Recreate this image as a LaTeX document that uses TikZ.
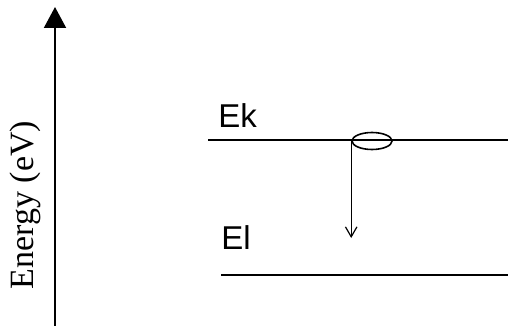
\documentclass[tikz,border=0pt]{standalone}
\usepackage{fontspec}
\setmainfont{Liberation Serif}
\newfontfamily\levelfont{Liberation Sans}
\usetikzlibrary{arrows.meta,shapes.geometric}

\begin{document}
\begin{tikzpicture}[x=1pt,y=-1pt,thick,
    axis/.style={line width=2pt,-{Triangle[width=22pt,length=21pt]}},
    level/.style={line width=1.4pt},
    level label/.style={font=\levelfont\fontsize{33}{36}\selectfont,anchor=south west,inner sep=0pt},
    carrier/.style={ellipse,draw,line width=1.6pt,minimum width=40pt,minimum height=17pt,inner sep=0pt},
    jump/.style={line width=1.2pt,-{Straight Barb[length=10pt,width=11pt,angle'=60]}}]
\useasboundingbox (0,0) rectangle (508,326);

% energy axis
\coordinate (axis bottom) at (55,326);
\coordinate (axis top) at (55,7);
\draw[axis] (axis bottom) -- (axis top);
\node[rotate=90,font=\fontsize{34}{40}\selectfont] (axis label) at (25,205) {Energy (eV)};

% upper level k
\coordinate (k left) at (208,140);
\coordinate (k right) at (508,140);
\draw[level] (k left) -- (k right);
\node[level label] (Ek) at (218,128) {Ek};

% lower level l
\coordinate (l left) at (221,275);
\coordinate (l right) at (508,275);
\draw[level] (l left) -- (l right);
\node[level label] (El) at (221,250) {El};

% electron and its transition
\node[carrier] (electron) at (372,141) {};
\coordinate (drop) at (electron.west |- 0,238);
\draw[jump] (electron.west) -- (drop);
\end{tikzpicture}
\end{document}
